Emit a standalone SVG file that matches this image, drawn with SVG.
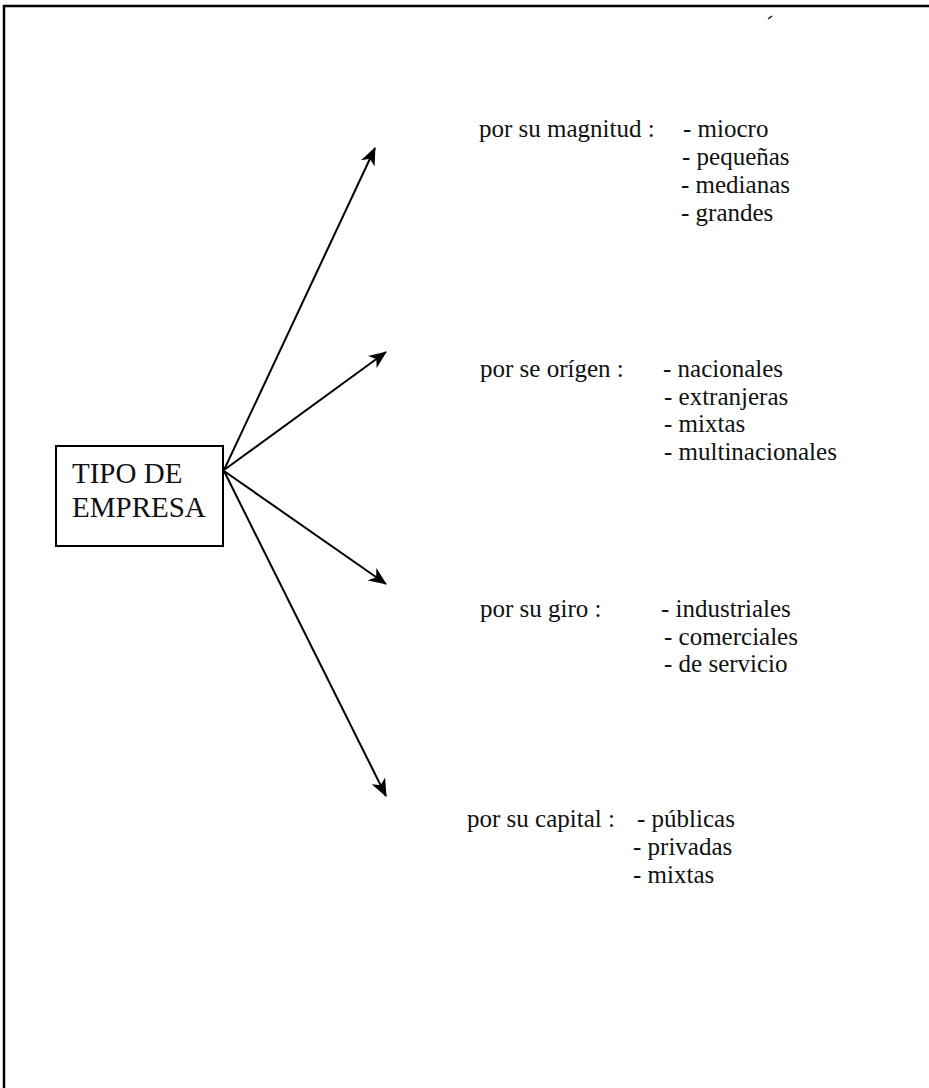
<svg xmlns="http://www.w3.org/2000/svg" width="929" height="1088" viewBox="0 0 929 1088">
<defs>
<marker id="ah" viewBox="0 0 18 15" refX="17" refY="7.5" markerWidth="18" markerHeight="15" markerUnits="userSpaceOnUse" orient="auto">
<path d="M0,0 L18,7.5 L0,15 L5,7.5 Z" fill="#000"/>
</marker>
</defs>
<style>
.t{font-family:"Liberation Serif","Times New Roman",serif;font-size:25px;fill:#111}
.b{font-family:"Liberation Serif","Times New Roman",serif;font-size:29px;fill:#111}
.c{stroke:#000;stroke-width:2;fill:none;marker-end:url(#ah)}
</style>
<rect width="929" height="1088" fill="#fff"/>
<g id="frame" stroke="#000" stroke-width="2.5" fill="none">
<path d="M4,1088 L4,6 L929,6"/>
<path d="M768,19 L772,16" stroke-width="1.2"/>
</g>
<g id="tipo-de-empresa">
<rect x="56" y="446" width="167" height="100" fill="#fff" stroke="#000" stroke-width="2"/>
<text class="b" x="72" y="483">TIPO DE</text>
<text class="b" x="72" y="517">EMPRESA</text>
</g>
<g id="connectors">
<line class="c" x1="224" y1="470" x2="375" y2="148"/>
<line class="c" x1="224" y1="470" x2="386" y2="352"/>
<line class="c" x1="224" y1="471" x2="386" y2="584"/>
<line class="c" x1="224" y1="471" x2="386" y2="796"/>
</g>
<g id="magnitud">
<text class="t" x="479" y="137">por su magnitud :</text>
<text class="t" x="683" y="137">- miocro</text>
<text class="t" x="682" y="165">- pequeñas</text>
<text class="t" x="681" y="193">- medianas</text>
<text class="t" x="681" y="221">- grandes</text>
</g>
<g id="origen">
<text class="t" x="480" y="377">por se orígen :</text>
<text class="t" x="663" y="377">- nacionales</text>
<text class="t" x="664" y="405">- extranjeras</text>
<text class="t" x="664" y="432">- mixtas</text>
<text class="t" x="664" y="460">- multinacionales</text>
</g>
<g id="giro">
<text class="t" x="480" y="617">por su giro :</text>
<text class="t" x="661" y="617">- industriales</text>
<text class="t" x="664" y="645">- comerciales</text>
<text class="t" x="664" y="672">- de servicio</text>
</g>
<g id="capital">
<text class="t" x="467" y="827">por su capital :</text>
<text class="t" x="637" y="827">- públicas</text>
<text class="t" x="633" y="855">- privadas</text>
<text class="t" x="633" y="883">- mixtas</text>
</g>
</svg>
